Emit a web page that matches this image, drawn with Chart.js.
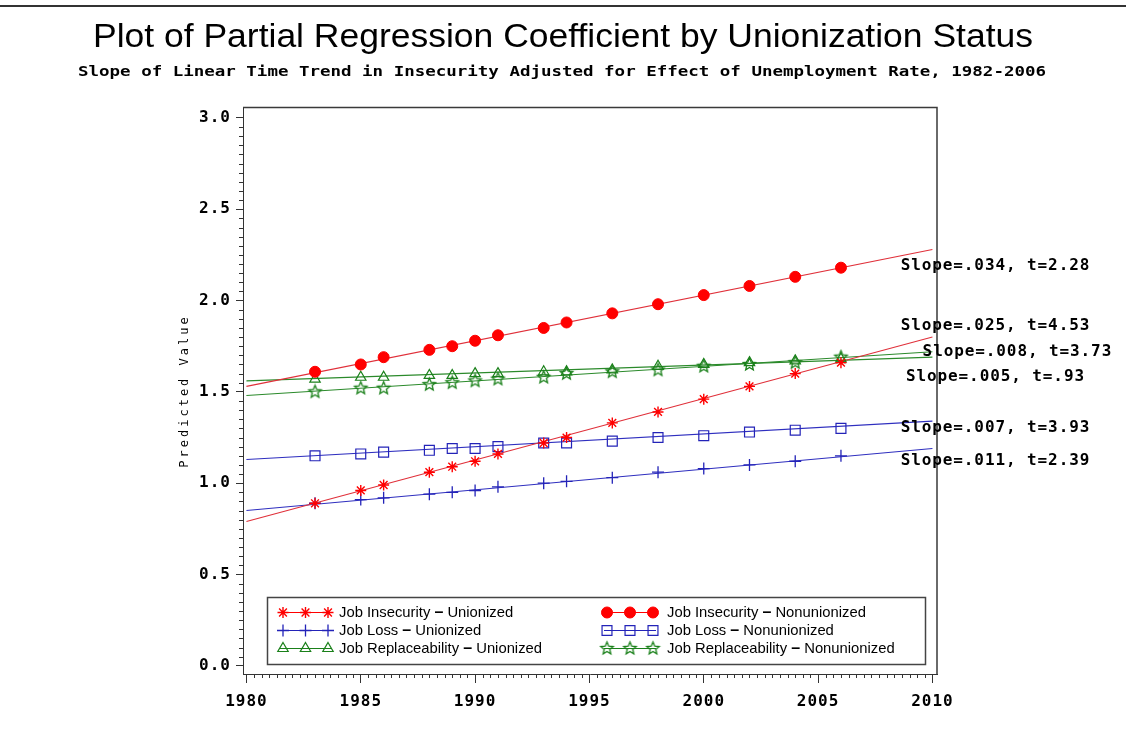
<!DOCTYPE html>
<html><head><meta charset="utf-8">
<script src="https://cdn.jsdelivr.net/npm/chart.js@4.4.1/dist/chart.umd.min.js"></script>
<style>html,body{margin:0;padding:0;background:#fff;overflow:hidden}#wrap{width:1126px;height:752px}</style>
</head><body><div id="wrap"><canvas id="c" width="1126" height="752"></canvas></div>
<script>
// ---------------- data ----------------
const surveyYears = [1983,1985,1986,1988,1989,1990,1991,1993,1994,1996,1998,2000,2002,2004,2006];
const insecurityUnion    = [0.89,0.96,0.99,1.06,1.09,1.12,1.16,1.22,1.25,1.33,1.39,1.46,1.53,1.60,1.66];
const insecurityNonunion = [1.61,1.65,1.69,1.73,1.75,1.78,1.81,1.85,1.88,1.93,1.98,2.03,2.08,2.13,2.18];
const lossUnion          = [0.89,0.91,0.92,0.94,0.95,0.96,0.98,1.00,1.01,1.03,1.06,1.08,1.10,1.12,1.15];
const lossNonunion       = [1.15,1.16,1.17,1.18,1.19,1.19,1.20,1.22,1.22,1.23,1.25,1.26,1.28,1.29,1.30];
const replaceUnion       = [1.57,1.58,1.58,1.59,1.59,1.60,1.60,1.61,1.61,1.62,1.64,1.65,1.66,1.67,1.68];
const replaceNonunion    = [1.50,1.52,1.52,1.54,1.55,1.56,1.57,1.58,1.60,1.61,1.62,1.64,1.65,1.66,1.69];

// fitted regression lines (value at start year, value at end year)
const fitYears              = [1980, 2010];
const fitInsecurityUnion    = [0.79, 1.80];
const fitInsecurityNonunion = [1.53, 2.28];
const fitLossUnion          = [0.85, 1.19];
const fitLossNonunion       = [1.13, 1.34];
const fitReplaceUnion       = [1.56, 1.69];
const fitReplaceNonunion    = [1.48, 1.72];

const xTickValues = [1980,1985,1990,1995,2000,2005,2010];
const yTickValues = [0.0,0.5,1.0,1.5,2.0,2.5,3.0];

const seriesLabels = [
  'Job Insecurity \u2013 Unionized','Job Insecurity \u2013 Nonunionized',
  'Job Loss \u2013 Unionized','Job Loss \u2013 Nonunionized',
  'Job Replaceability \u2013 Unionized','Job Replaceability \u2013 Nonunionized'
];
const slopeLabels = ['Slope=.034, t=2.28','Slope=.025, t=4.53','Slope=.008, t=3.73','Slope=.005, t=.93','Slope=.007, t=3.93','Slope=.011, t=2.39'];
const slopeLabelX = [2008.61, 2008.61, 2009.57, 2008.84, 2008.61, 2008.61];
const slopeLabelY = [2.189, 1.861, 1.720, 1.583, 1.301, 1.123];

const titleText = 'Plot of Partial Regression Coefficient by Unionization Status';
const subtitleText = 'Slope of Linear Time Trend in Insecurity Adjusted for Effect of Unemployment Rate, 1982-2006';
const yAxisTitle = 'Predicted Value';

// ---------------- styles ----------------
const RED = '#ff0000', RED_LINE = '#e0303a';
const BLUE = '#2323b8', BLUE_LINE = '#2f2fbf';
const GREEN = '#1a801a', GREEN_LINE = '#2b8a2b';

function makeStar(color, r, lw){
  const s = Math.ceil(r*2+4);
  const c = document.createElement('canvas'); c.width = s; c.height = s;
  const g = c.getContext('2d');
  g.strokeStyle = color; g.lineWidth = lw;
  g.beginPath();
  for (let i=0;i<10;i++){
    const a = -Math.PI/2 + i*Math.PI/5;
    const rr = (i%2) ? r*0.45 : r;
    const px = s/2 + rr*Math.cos(a), py = s/2 + rr*Math.sin(a);
    if (i===0) g.moveTo(px,py); else g.lineTo(px,py);
  }
  g.closePath(); g.stroke();
  return c;
}
const greenStar = makeStar(GREEN, 6.5, 1.3);

function pts(xs, ys){ return xs.map((x,i)=>({x:x, y:ys[i]})); }

const markerSpecs = [
  {label:seriesLabels[0], vals:insecurityUnion,    style:'star',     r:5.5, fill:'rgba(0,0,0,0)', color:RED,   bw:1.4},
  {label:seriesLabels[1], vals:insecurityNonunion, style:'circle',   r:5.5, fill:RED,             color:RED,   bw:1},
  {label:seriesLabels[2], vals:lossUnion,          style:'cross',    r:6,   fill:'rgba(0,0,0,0)', color:BLUE,  bw:1.3},
  {label:seriesLabels[3], vals:lossNonunion,       style:'rect',     r:7,   fill:'rgba(0,0,0,0)', color:BLUE,  bw:1.2},
  {label:seriesLabels[4], vals:replaceUnion,       style:'triangle', r:6,   fill:'rgba(0,0,0,0)', color:GREEN, bw:1.2},
  {label:seriesLabels[5], vals:replaceNonunion,    style:greenStar,  r:6.5, fill:'rgba(0,0,0,0)', color:GREEN, bw:1}
];
const lineSpecs = [
  {vals:fitInsecurityUnion, color:RED_LINE},
  {vals:fitInsecurityNonunion, color:RED_LINE},
  {vals:fitLossUnion, color:BLUE_LINE},
  {vals:fitLossNonunion, color:BLUE_LINE},
  {vals:fitReplaceUnion, color:GREEN_LINE},
  {vals:fitReplaceNonunion, color:GREEN_LINE}
];

const datasets = [];
lineSpecs.forEach((l,i)=>datasets.push({
  label:'fit'+i, data:pts(fitYears,l.vals), showLine:true, borderColor:l.color, borderWidth:1.1,
  pointRadius:0, fill:false, order:2
}));
markerSpecs.forEach(m=>datasets.push({
  label:m.label, data:pts(surveyYears,m.vals), showLine:false,
  pointStyle:m.style, pointRadius:m.r, pointBackgroundColor:m.fill, pointBorderColor:m.color,
  pointBorderWidth:m.bw, order:1
}));

// ---------------- helpers ----------------
function fitText(ctx, text, cx, y, font, width){
  ctx.save();
  ctx.font = font;
  ctx.letterSpacing = '0px';
  const w = ctx.measureText(text).width;
  ctx.translate(cx, y);
  ctx.scale(width/w, 1);
  ctx.textAlign = 'center';
  ctx.textBaseline = 'alphabetic';
  ctx.fillStyle = '#000';
  ctx.fillText(text, 0, 0);
  ctx.restore();
}
function drawMarker(ctx, spec, x, y){
  ctx.save();
  ctx.fillStyle = spec.fill; ctx.strokeStyle = spec.color; ctx.lineWidth = spec.bw;
  if (Chart.helpers && Chart.helpers.drawPoint){
    Chart.helpers.drawPoint(ctx, {pointStyle:spec.style, radius:spec.r, rotation:0, borderWidth:spec.bw}, x, y);
  } else if (typeof spec.style === 'object'){
    ctx.drawImage(spec.style, x-spec.style.width/2, y-spec.style.height/2);
  } else {
    ctx.beginPath(); ctx.arc(x,y,spec.r,0,Math.PI*2); ctx.fill(); ctx.stroke();
  }
  ctx.restore();
}

const decor = {
  id:'decor',
  beforeDraw(chart){
    const ctx = chart.ctx;
    ctx.save(); ctx.fillStyle='#fff'; ctx.fillRect(0,0,chart.width,chart.height); ctx.restore();
    ctx.letterSpacing = '1px';
  },
  afterDraw(chart){
    const ctx = chart.ctx, a = chart.chartArea;
    const xs = chart.scales.x, ys = chart.scales.y;
    ctx.save();
    ctx.letterSpacing = '0px';
    // top rule
    ctx.strokeStyle = '#333'; ctx.lineWidth = 2;
    ctx.beginPath(); ctx.moveTo(0,6); ctx.lineTo(chart.width,6); ctx.stroke();
    // frame top + right
    ctx.strokeStyle = '#3a3a3a'; ctx.lineWidth = 1.5;
    ctx.beginPath(); ctx.moveTo(a.left, a.top+0.5); ctx.lineTo(a.right, a.top+0.5); ctx.lineTo(a.right, a.bottom); ctx.stroke();
    // minor ticks
    ctx.strokeStyle = '#333'; ctx.lineWidth = 1;
    ctx.beginPath();
    const yMinorStep = 0.05;
    for (let k=1;k<60;k++){
      if (k%10===0) continue;
      const py = Math.round(ys.getPixelForValue(k*yMinorStep))+0.5;
      ctx.moveTo(a.left-4, py); ctx.lineTo(a.left, py);
    }
    const xMinorPerMajor = 15;
    for (let k=1;k<90;k++){
      if (k%xMinorPerMajor===0) continue;
      const px = Math.round(xs.getPixelForValue(xTickValues[0] + k*5/xMinorPerMajor))+0.5;
      ctx.moveTo(px, a.bottom); ctx.lineTo(px, a.bottom+4);
    }
    ctx.stroke();
    // titles
    fitText(ctx, titleText, 563, 47, '34px "Liberation Sans", Arial, sans-serif', 940);
    fitText(ctx, subtitleText, 562, 76, 'bold 14px "DejaVu Sans Mono", monospace', 968);
    // y axis title
    ctx.save();
    ctx.translate(185, 391); ctx.rotate(-Math.PI/2);
    ctx.font = '12px "DejaVu Sans Mono", monospace';
    ctx.letterSpacing = '3px';
    ctx.fillStyle = '#000'; ctx.textAlign='center'; ctx.textBaseline='middle';
    ctx.fillText(yAxisTitle, 0, 0);
    ctx.restore();
    // slope annotations
    ctx.font = 'bold 16px "DejaVu Sans Mono", monospace';
    ctx.letterSpacing = '0.9px';
    ctx.fillStyle = '#000'; ctx.textAlign='left'; ctx.textBaseline='middle';
    slopeLabels.forEach((t,i)=>{
      ctx.fillText(t, xs.getPixelForValue(slopeLabelX[i]), ys.getPixelForValue(slopeLabelY[i]));
    });
    ctx.letterSpacing = '0px';
    // legend
    const L = {x:267, y:597, w:658, h:67};
    ctx.fillStyle = '#fff'; ctx.fillRect(L.x, L.y, L.w, L.h);
    ctx.strokeStyle = '#444'; ctx.lineWidth = 1.5;
    ctx.strokeRect(L.x+0.5, L.y+0.5, L.w, L.h);
    const rowsY = [612.5, 630.5, 648.5];
    const cols = [{m:[283,305.5,328], t:339}, {m:[607,630,653], t:667}];
    const legFont = '14.8px "Liberation Sans", Arial, sans-serif';
    markerSpecs.forEach((spec, i)=>{
      const col = cols[i%2], y = rowsY[Math.floor(i/2)];
      ctx.strokeStyle = spec.color; ctx.lineWidth = 1.2;
      ctx.beginPath(); ctx.moveTo(col.m[0]-3, y); ctx.lineTo(col.m[2]+3, y); ctx.stroke();
      col.m.forEach(mx=>drawMarker(ctx, spec, mx, y));
      const parts = spec.label.split(' \u2013 ');
      ctx.fillStyle = '#000'; ctx.textAlign='left'; ctx.textBaseline='middle';
      ctx.font = legFont;
      let x = col.t;
      ctx.fillText(parts[0] + ' ', x, y); x += ctx.measureText(parts[0] + ' ').width;
      ctx.font = 'bold 16px "Liberation Sans", Arial, sans-serif';
      ctx.fillText('\u2013', x, y); x += ctx.measureText('\u2013').width;
      ctx.font = legFont;
      ctx.fillText(' ' + parts[1], x, y);
    });
    ctx.restore();
  }
};

const tickFont = {family:'"DejaVu Sans Mono", monospace', weight:'bold', size:16};

new Chart(document.getElementById('c'), {
  type:'scatter',
  data:{datasets:datasets},
  options:{
    responsive:false, animation:false, events:[],
    layout:{padding:{top:107, right:189, left:0, bottom:0}},
    plugins:{legend:{display:false}, tooltip:{enabled:false}, title:{display:false}},
    scales:{
      x:{
        type:'linear', min:1979.85, max:2010.2,
        afterFit(s){ s.height = 78; },
        afterBuildTicks(s){ s.ticks = xTickValues.map(v=>({value:v})); },
        ticks:{callback:v=>String(v), font:tickFont, color:'#000', padding:9, maxRotation:0, autoSkip:false},
        grid:{drawOnChartArea:false, drawTicks:true, tickLength:9, color:'#333', lineWidth:1},
        border:{color:'#333', width:1}
      },
      y:{
        type:'linear', min:-0.045, max:3.06,
        afterFit(s){ s.width = 243; },
        afterBuildTicks(s){ s.ticks = yTickValues.map(v=>({value:v})); },
        ticks:{callback:v=>Number(v).toFixed(1), font:tickFont, color:'#000', padding:5, autoSkip:false},
        grid:{drawOnChartArea:false, drawTicks:true, tickLength:7, color:'#333', lineWidth:1},
        border:{color:'#333', width:1}
      }
    }
  },
  plugins:[decor]
});
</script>
</body></html>
